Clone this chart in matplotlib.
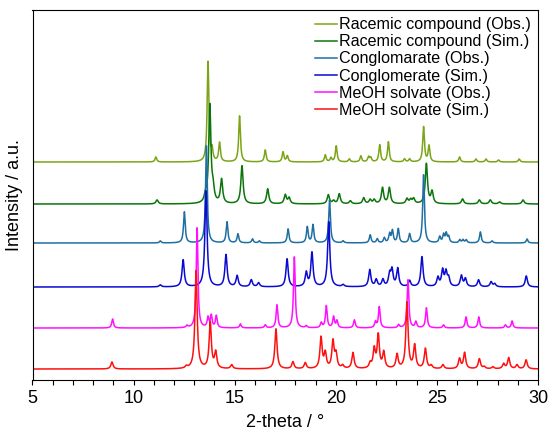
import numpy as np
import matplotlib
matplotlib.use("Agg")
import matplotlib.pyplot as plt

plt.rcParams['font.family'] = ['Liberation Sans', 'DejaVu Sans']

# peak positions (2-theta) and heights, one list pair per pattern
rac_obs_pos = [11.10, 13.68, 13.88, 14.25, 15.24, 16.51, 17.39, 17.60, 19.48, 19.76, 20.02,
               20.67, 21.24, 21.62, 21.73, 22.17, 22.60, 23.40, 23.65, 24.34, 24.61, 26.12,
               26.93, 27.43, 28.05, 29.07]
rac_obs_h = [5, 100, 11, 19, 46, 12, 10, 6, 7, 4, 16,
             3, 6, 5, 4, 17, 20, 3, 3, 35, 16, 5,
             3, 3, 2, 3]

rac_sim_pos = [11.16, 13.55, 13.77, 13.93, 14.35, 15.36, 16.63, 17.50, 17.69, 19.63, 19.89,
               20.17, 20.72, 21.38, 21.70, 21.90, 22.31, 22.65, 23.52, 23.70, 23.85, 24.48,
               24.76, 26.27, 27.10, 27.64, 28.10, 29.26]
rac_sim_h = [4, 6, 98, 12, 24, 38, 15, 9, 6, 9, 3,
             10, 3, 6, 4, 4, 16, 16, 5, 4, 5, 40,
             12, 5, 4, 4, 2, 4]

con_obs_pos = [11.32, 12.51, 13.60, 14.62, 15.16, 15.88, 16.22, 17.64, 18.59, 18.87, 19.69,
               20.36, 21.70, 22.05, 22.40, 22.66, 22.80, 23.09, 23.65, 24.34, 25.14, 25.33,
               25.46, 25.58, 26.13, 26.29, 26.45, 27.15, 27.73, 29.46]
con_obs_h = [2, 31, 97, 21, 9, 4, 2, 14, 16, 18, 43,
             2, 8, 4, 5, 9, 12, 14, 9, 68, 6, 8,
             9, 6, 3, 3, 3, 11, 2, 4]

con_sim_pos = [11.32, 12.45, 13.58, 14.57, 15.12, 15.82, 16.18, 17.59, 18.54, 18.82, 19.65,
               20.36, 21.68, 22.00, 22.33, 22.66, 22.78, 23.06, 23.65, 24.26, 25.05, 25.28,
               25.45, 25.58, 26.21, 26.41, 27.06, 27.68, 27.86, 29.42]
con_sim_h = [2, 27, 96, 32, 11, 7, 4, 28, 14, 34, 65,
             2, 17, 7, 7, 12, 16, 18, 6, 30, 9, 16,
             14, 8, 11, 8, 7, 5, 3, 11]

meoh_obs_pos = [8.96, 12.64, 13.14, 13.68, 13.84, 14.09, 15.28, 16.51, 17.09, 17.95, 18.54,
                19.28, 19.53, 19.89, 20.06, 20.92, 21.96, 22.15, 23.11, 23.57, 23.96, 24.48,
                25.33, 26.44, 27.07, 28.39, 28.72]
meoh_obs_h = [9, 2, 100, 10, 12, 12, 4, 3, 23, 71, 2,
              5, 22, 11, 7, 8, 6, 21, 3, 48, 6, 20,
              3, 11, 11, 3, 7]

meoh_sim_pos = [8.93, 12.61, 13.09, 13.79, 14.06, 14.85, 17.04, 17.88, 18.49, 19.27, 19.48,
                19.86, 20.01, 20.34, 20.85, 21.70, 21.90, 22.10, 22.37, 23.03, 23.52, 23.90,
                24.43, 24.72, 25.30, 26.12, 26.37, 27.10, 27.34, 27.77, 28.30, 28.55, 28.96,
                29.41]
meoh_sim_h = [7, 2, 98, 46, 16, 4, 40, 7, 6, 31, 15,
              27, 14, 3, 16, 5, 19, 33, 16, 14, 66, 23,
              20, 3, 4, 10, 16, 10, 2, 2, 5, 11, 4,
              9]

labels = ['Racemic compound (Obs.)', 'Racemic compound (Sim.)', 'Conglomarate (Obs.)',
          'Conglomerate (Sim.)', 'MeOH solvate (Obs.)', 'MeOH solvate (Sim.)']
offsets = [218, 176, 137, 93, 52, 11]
colors = ['#7aa517', '#0b750b', '#1f6fa3', '#0a0ad2', '#ff10ff', '#ff1010']
widths = [0.05, 0.065, 0.05, 0.065, 0.05, 0.065]

patterns = [(rac_obs_pos, rac_obs_h), (rac_sim_pos, rac_sim_h), (con_obs_pos, con_obs_h),
            (con_sim_pos, con_sim_h), (meoh_obs_pos, meoh_obs_h), (meoh_sim_pos, meoh_sim_h)]

two_theta = np.arange(5, 30.001, 0.005)

fig = plt.figure(figsize=(5.48, 4.36), dpi=100)
ax = fig.add_axes([32.5 / 548, 56 / 436, 505.5 / 548, 370 / 436])

for (pos, h), off, col, w, lab in zip(patterns, offsets, colors, widths, labels):
    # draw each reflection as a narrow Lorentzian line
    y = np.zeros_like(two_theta)
    for p, a in zip(pos, h):
        y += a / (1 + ((two_theta - p) / w) ** 2)
    ax.plot(two_theta, y + off, color=col, lw=1.1, label=lab)

ax.set_xlim(5, 30)
ax.set_ylim(0, 370)
ax.set_xticks(np.arange(5, 31, 5))
ax.set_xticks(np.arange(5, 31, 1), minor=True)
ax.tick_params(axis='x', which='both', direction='out', length=3.5, width=0.8, labelsize=13, pad=4)
ax.tick_params(axis='x', which='minor', length=3.5)
ax.set_yticks([])
ax.set_xlabel('2-theta / °', fontsize=13, labelpad=5)
ax.set_ylabel('Intensity / a.u.', fontsize=13, labelpad=7)

ax.legend(loc='upper right', bbox_to_anchor=(1.0, 1.0), frameon=False, fontsize=11.6,
          handlelength=1.4, handletextpad=0.1, labelspacing=0.13, borderaxespad=0.25,
          borderpad=0.2)

fig.savefig('out.png', dpi=100)
